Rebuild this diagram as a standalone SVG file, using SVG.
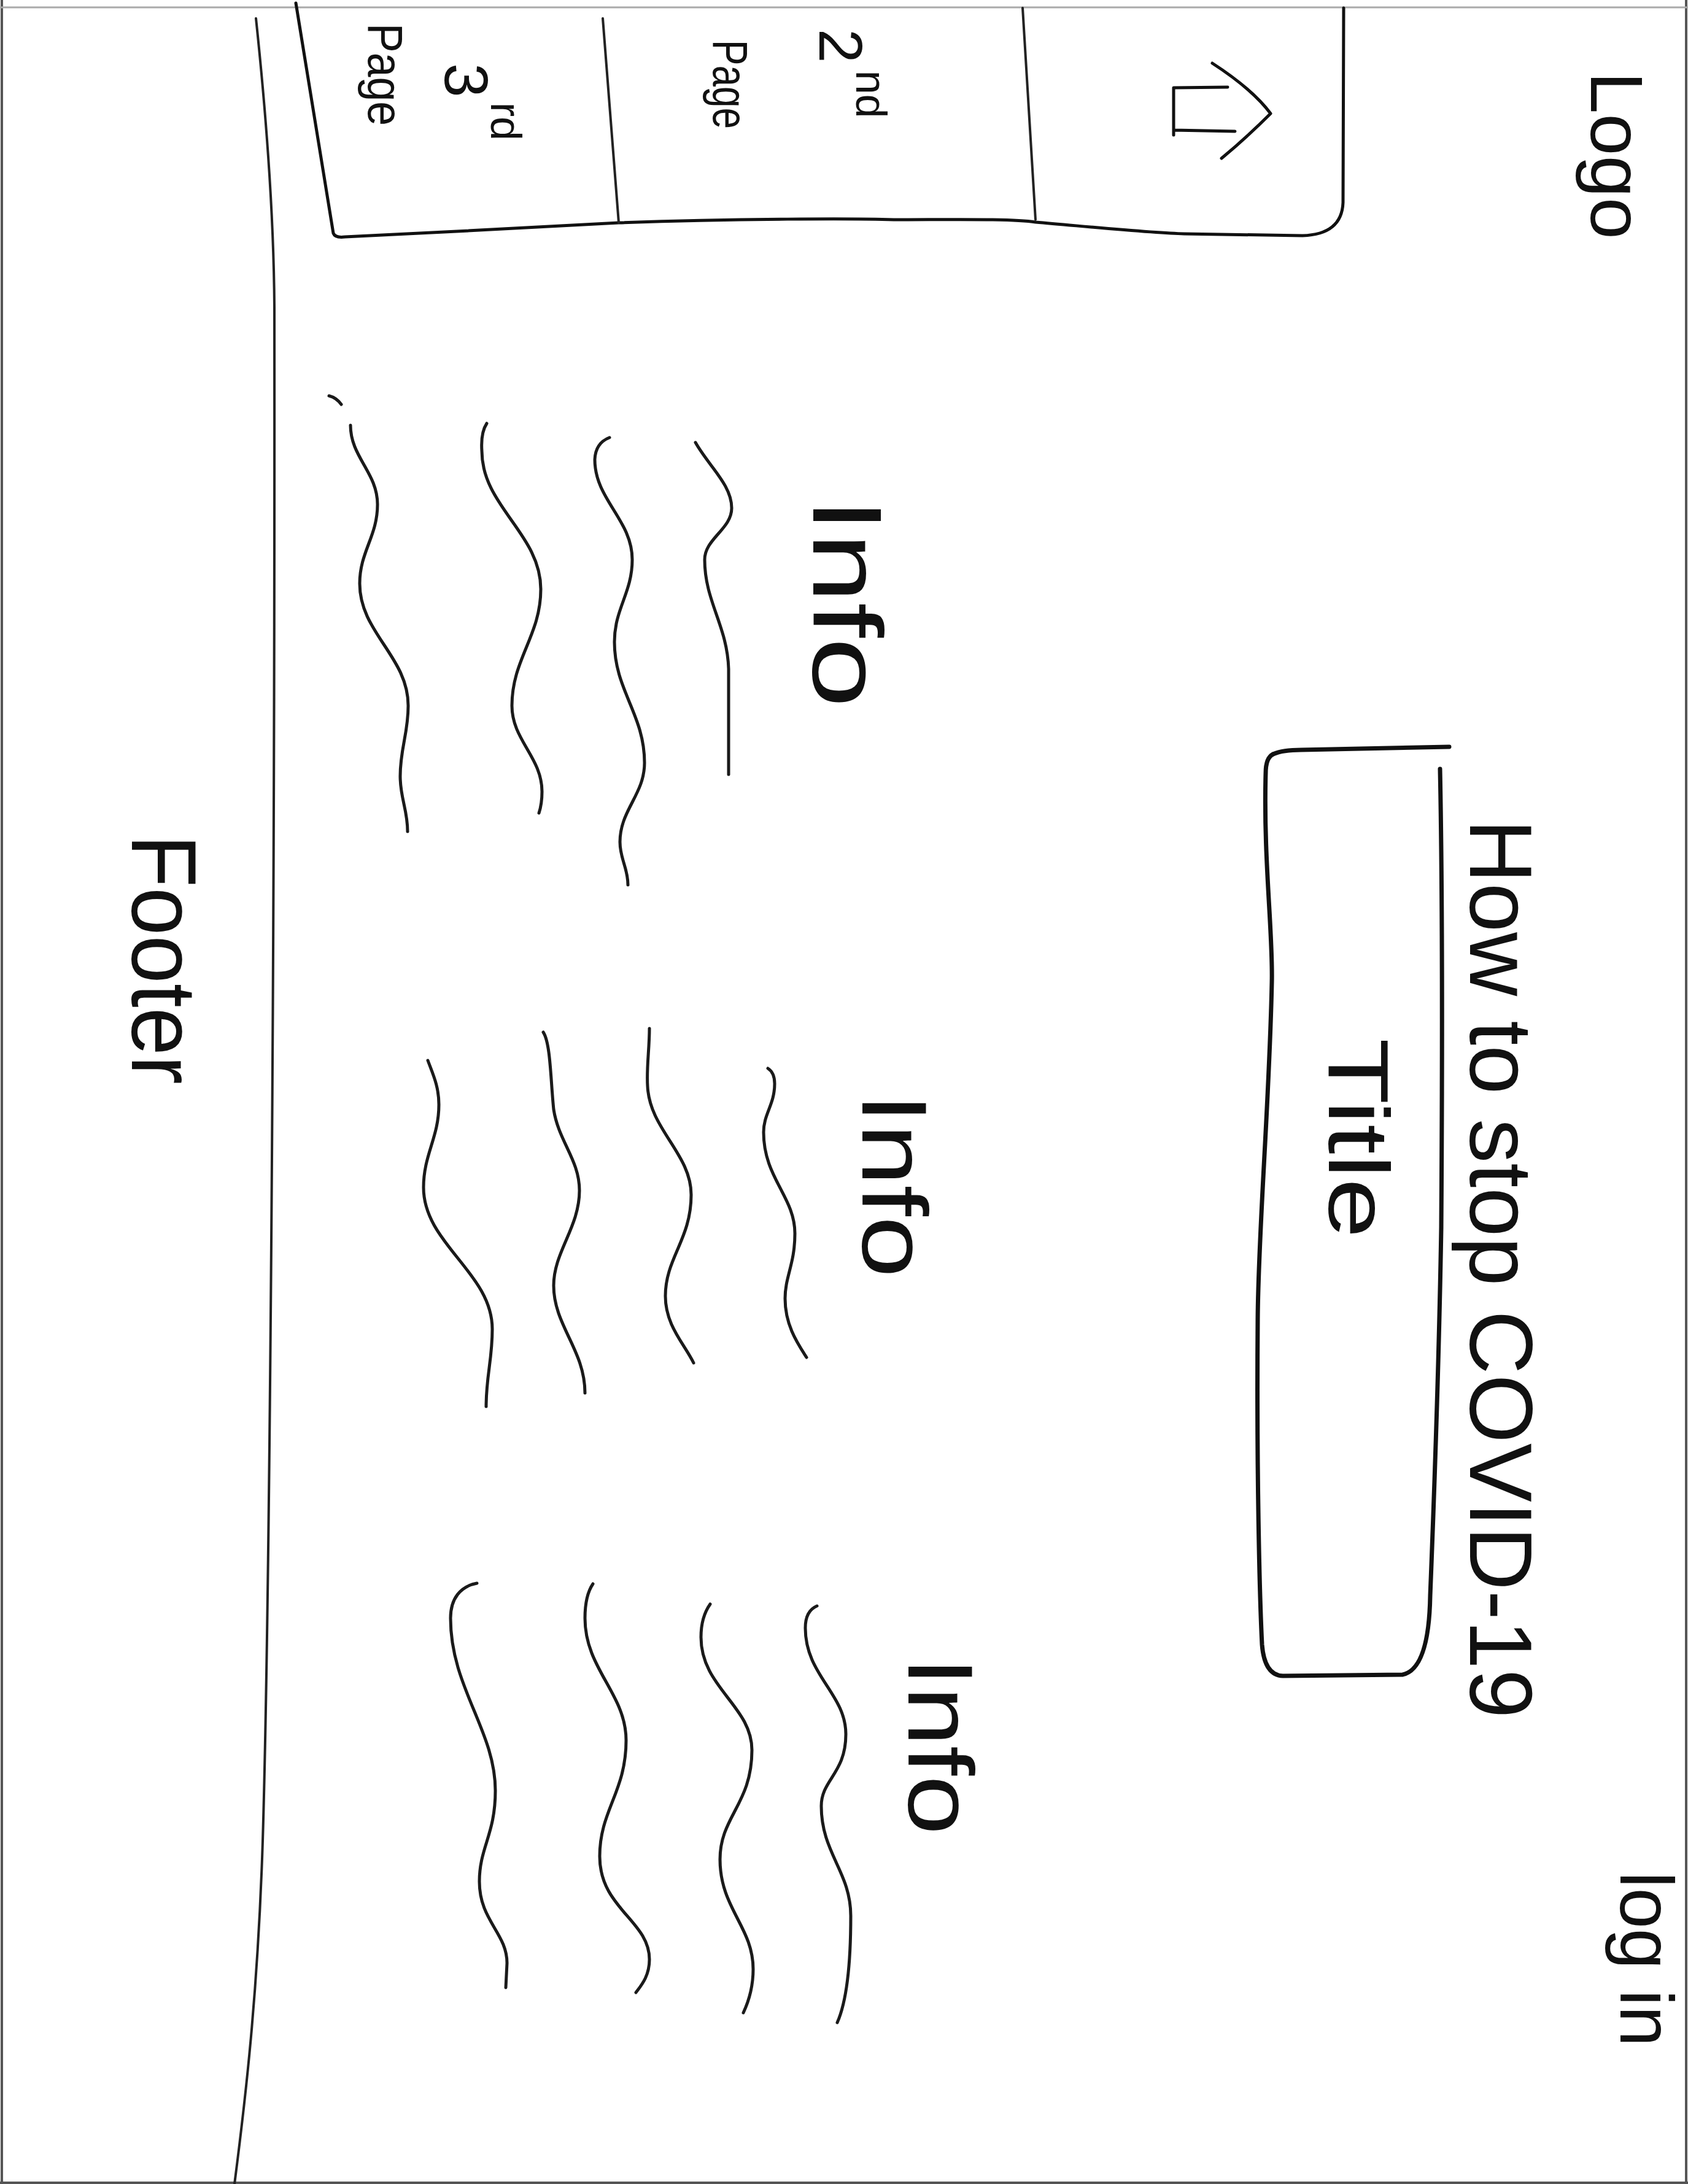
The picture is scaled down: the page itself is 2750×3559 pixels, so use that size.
<svg xmlns="http://www.w3.org/2000/svg" width="2750" height="3559" viewBox="0 0 2750 3559">
<style>
.ink{fill:none;stroke:#111;stroke-width:5;stroke-linecap:round;stroke-linejoin:round}
.bold{stroke-width:7}
.thin{fill:none;stroke:#222;stroke-width:4;stroke-linecap:round;stroke-linejoin:round}
.wave{fill:none;stroke:#1a1a1a;stroke-width:5;stroke-linecap:round;stroke-linejoin:round}
.edge{fill:none;stroke:#555;stroke-width:4}
.hand{font-family:"Liberation Sans",Arial,sans-serif;fill:#111}
</style>
<rect width="2750" height="3559" fill="#fff"/>
<g id="page-frame">
  <line class="edge" x1="3" y1="0" x2="3" y2="3559"/>
  <line class="edge" x1="2747" y1="0" x2="2747" y2="3559" stroke="#222"/>
  <line class="edge" x1="0" y1="3557" x2="2750" y2="3557" stroke="#222"/>
  <line x1="0" y1="12" x2="2750" y2="12" stroke="#aaa" stroke-width="3"/>
  <path class="thin" d="M417,30 C435,200 446,350 447,500 C448,1500 440,2600 428,3000 C420,3250 400,3420 382,3559"/>
</g>
<g id="nav">
  <path class="ink" d="M482,5 L543,380 Q546,388 562,386 C700,380 900,368 1008,363 C1200,356 1400,356 1456,358 C1550,358 1650,356 1687,362 C1780,370 1880,380 1929,381 L2122,384 Q2186,382 2188,330 L2189,13"/>
  <path class="thin" d="M982,30 L1008,363"/>
  <path class="thin" d="M1666,13 L1687,358"/>
  <g id="nav-3rd">
    <text class="hand" transform="translate(725,103) rotate(90)" font-size="100">3<tspan dx="8" dy="-75" font-size="70">rd</tspan></text>
    <text class="hand" transform="translate(600,38) rotate(90)" font-size="80" textLength="167" lengthAdjust="spacingAndGlyphs">Page</text>
  </g>
  <g id="nav-2nd">
    <text class="hand" transform="translate(1335,47) rotate(90)" font-size="100">2<tspan dx="12" dy="-60" font-size="70">nd</tspan></text>
    <text class="hand" transform="translate(1162,65) rotate(90)" font-size="80" textLength="145" lengthAdjust="spacingAndGlyphs">Page</text>
  </g>
  <g id="nav-arrow">
    <path class="ink" d="M1912,143 L1912,220 M1912,143 L2000,142 M1912,212 L2012,214 M1975,103 Q2040,145 2070,185 Q2030,225 1990,258"/>
  </g>
</g>
<g id="logo">
  <text class="hand" transform="translate(2592,117) rotate(90)" font-size="120" textLength="273" lengthAdjust="spacingAndGlyphs">Logo</text>
</g>
<g id="login">
  <text class="hand" transform="translate(2640,3050) rotate(90)" font-size="122" textLength="285" lengthAdjust="spacingAndGlyphs">log in</text>
</g>
<g id="heading">
  <text class="hand" transform="translate(2395,1335) rotate(90)" font-size="145" textLength="1465" lengthAdjust="spacingAndGlyphs">How to stop COVID-19</text>
</g>
<g id="title">
  <path class="ink bold" d="M2074,1229 Q2062,1235 2062,1260 C2058,1400 2074,1520 2072,1600 C2068,1800 2050,2000 2049,2150 C2047,2400 2052,2600 2056,2680 Q2060,2730 2090,2731 L2285,2729 Q2328,2720 2330,2600 C2336,2450 2344,2240 2348,2000 C2350,1700 2350,1450 2346,1253"/>
  <path class="ink bold" d="M2074,1229 Q2090,1222 2120,1222 L2361,1217"/>
  <text class="hand" transform="translate(2165,1692) rotate(90)" font-size="140" textLength="326" lengthAdjust="spacingAndGlyphs">Title</text>
</g>
<g id="info-1">
  <text class="hand" transform="translate(1325,811) rotate(90)" font-size="160" textLength="342" lengthAdjust="spacingAndGlyphs">Info</text>
  <path class="wave" d="M536,645 Q548,648 556,659"/>
  <path class="wave" d="M571,693 C571,745 615,770 615,822 C615,874 586,899 586,951 C586,1031 665,1070 665,1150 C665,1196 652,1219 652,1265 C652,1301 664,1319 664,1355"/>
  <path class="wave" d="M793,690 Q783,705 785,735 C785,825 881,870 881,960 C881,1036 834,1074 834,1150 C834,1206 883,1234 883,1290 Q883,1310 878,1325"/>
  <path class="wave" d="M993,713 Q970,722 969,749 C969,814 1030,847 1030,912 C1030,966 1001,992 1001,1046 C1001,1125 1050,1164 1050,1243 C1050,1295 1010,1320 1010,1372 C1010,1400 1023,1414 1023,1442"/>
  <path class="wave" d="M1133,721 C1155,760 1192,790 1192,828 C1192,862 1148,878 1148,912 C1148,980 1185,1020 1187,1090 L1187,1262"/>
</g>
<g id="info-2">
  <text class="hand" transform="translate(1405,1781) rotate(90)" font-size="150" textLength="301" lengthAdjust="spacingAndGlyphs">Info</text>
  <path class="wave" d="M697,1728 C705,1750 715,1770 715,1800 C715,1854 690,1881 690,1935 C690,2027 802,2074 802,2166 C802,2216 792,2242 792,2292"/>
  <path class="wave" d="M885,1682 C897,1700 897,1760 902,1808 C910,1860 944,1890 944,1940 C944,2000 902,2040 902,2095 C902,2160 953,2200 953,2270"/>
  <path class="wave" d="M1058,1676 C1058,1710 1053,1740 1055,1770 C1058,1840 1126,1880 1126,1947 C1126,2020 1084,2050 1084,2112 C1084,2160 1115,2190 1130,2221"/>
  <path class="wave" d="M1251,1741 Q1262,1748 1262,1766 C1262,1800 1244,1815 1244,1845 C1244,1920 1295,1950 1295,2010 C1295,2060 1279,2080 1279,2116 C1279,2160 1300,2190 1314,2212"/>
</g>
<g id="info-3">
  <text class="hand" transform="translate(1480,2700) rotate(90)" font-size="150" textLength="290" lengthAdjust="spacingAndGlyphs">Info</text>
  <path class="wave" d="M777,2580 C750,2585 734,2605 734,2637 C734,2750 807,2820 807,2918 C807,2990 781,3010 781,3066 C781,3130 826,3150 826,3199 L824,3239"/>
  <path class="wave" d="M966,2581 Q953,2600 953,2637 C953,2720 1020,2760 1020,2836 C1020,2920 977,2950 977,3025 C977,3110 1058,3130 1058,3193 C1058,3220 1045,3235 1036,3247"/>
  <path class="wave" d="M1157,2614 Q1142,2635 1142,2668 C1142,2750 1225,2780 1225,2852 C1225,2940 1173,2960 1173,3030 C1173,3110 1227,3140 1227,3209 C1227,3240 1218,3265 1211,3280"/>
  <path class="wave" d="M1331,2617 Q1312,2625 1312,2653 C1312,2730 1378,2760 1378,2826 C1378,2890 1338,2900 1338,2943 C1338,3020 1386,3050 1386,3122 C1386,3200 1380,3260 1364,3296"/>
</g>
<g id="footer">
  <text class="hand" transform="translate(215,1360) rotate(90)" font-size="150" textLength="407" lengthAdjust="spacingAndGlyphs">Footer</text>
</g>
</svg>
